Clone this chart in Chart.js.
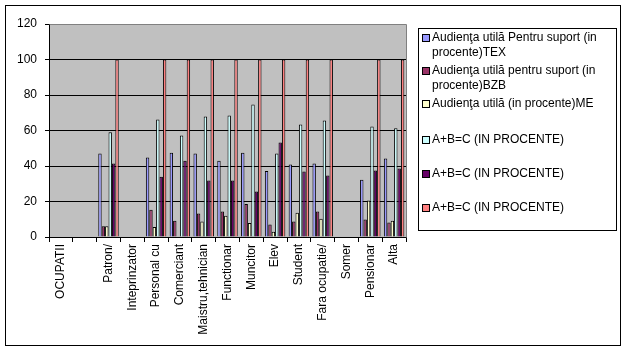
<!DOCTYPE html>
<html>
<head>
<meta charset="utf-8">
<script src="https://cdn.jsdelivr.net/npm/chart.js@4"></script>
<style>
  html, body { margin: 0; padding: 0; background: #fff; }
  #wrap { width: 627px; height: 352px; }
</style>
</head>
<body>
<div id="wrap"><canvas id="occupChart" width="627" height="352"></canvas></div>
<script>
// categories (second one has no label in the original)
const categories = ['OCUPATII', '', 'Patron/', 'Inteprinzator', 'Personal cu', 'Comerciant',
    'Maistru,tehnician', 'Functionar', 'Muncitor', 'Elev', 'Student', 'Fara ocupatie/',
    'Somer', 'Pensionar', 'Alta'];

const seriesNames = [
    'Audienţa utilă Pentru suport (in procente)TEX',
    'Audienţa utilă pentru suport (in procente)BZB',
    'Audienţa utilă (in procente)ME',
    'A+B=C (IN PROCENTE)',
    'A+B=C (IN PROCENTE)',
    'A+B=C (IN PROCENTE)'
];

const tex  = [null, null, 47.0, null, 44.8, 47.4, 47.0, 43.0, 47.4, 37.2, 40.8, 41.4, null, 32.3, 44.2];
const bzb  = [null, null, 6.0,  null, 15.4, 9.2,  13.2, 14.3, 18.6, 7.0,  8.7,  14.3, null, 9.8,  8.1];
const me   = [null, null, 6.0,  null, 5.6,  0,    8.7,  12.0, 7.9,  3.0,  13.7, 10.3, null, 20.5, 9.2];
const sumA = [null, null, 59.0, null, 66.2, 57.2, 67.9, 68.5, 74.7, 47.0, 63.4, 65.6, null, 62.3, 61.3];
const sumB = [null, null, 41.4, null, 33.9, 43.0, 31.8, 31.8, 25.6, 53.2, 36.9, 34.6, null, 37.4, 38.6];
const sumC = [null, null, 100,  null, 100,  100,  100,  100,  100,  100,  100,  100,  null, 100,  100];

const yTicks = [0, 20, 40, 60, 80, 100, 120];

const colors = ['#9999FF', '#993366', '#FFFFCC', '#CCFFFF', '#660066', '#FF8080'];
const allSeries = [tex, bzb, me, sumA, sumB, sumC];

const FONT = 'Arial, "Liberation Sans", sans-serif';

// gray plot background, plot frame, outer border and the legend box
const excelLook = {
    id: 'excelLook',
    beforeDraw(chart) {
        const { ctx, chartArea: a } = chart;
        ctx.save();
        ctx.fillStyle = '#fff';
        ctx.fillRect(0, 0, chart.width, chart.height);
        ctx.fillStyle = '#C0C0C0';
        ctx.fillRect(a.left, a.top, a.right - a.left, a.bottom - a.top);
        ctx.restore();
    },
    afterDraw(chart) {
        const { ctx, chartArea: a } = chart;
        ctx.save();
        ctx.lineWidth = 1;
        ctx.strokeStyle = '#808080';
        ctx.beginPath();
        ctx.moveTo(Math.round(a.left) + 0.5, Math.round(a.top) + 0.5);
        ctx.lineTo(Math.round(a.right) + 0.5, Math.round(a.top) + 0.5);
        ctx.lineTo(Math.round(a.right) + 0.5, Math.round(a.bottom) + 0.5);
        ctx.stroke();

        // outer chart border
        ctx.strokeStyle = '#000';
        ctx.strokeRect(5.5, 5.5, 615, 340);

        // legend
        const lx = 418, ly = 28, lw = 198, lh = 202;
        ctx.strokeRect(lx + 0.5, ly + 0.5, lw, lh);
        ctx.font = '12px ' + FONT;
        ctx.textBaseline = 'middle';
        ctx.fillStyle = '#000';
        const rowY = [38, 71, 104, 140, 174, 208];
        chart.data.datasets.forEach((ds, i) => {
            const y = rowY[i];
            ctx.fillStyle = ds.backgroundColor;
            ctx.fillRect(lx + 4.5, y - 3.5, 7, 7);
            ctx.strokeStyle = '#000';
            ctx.strokeRect(lx + 4.5, y - 3.5, 7, 7);
            ctx.fillStyle = '#000';
            // simple word wrap
            const words = ds.label.split(' ');
            let line = '', lineY = y;
            words.forEach(w => {
                const test = line ? line + ' ' + w : w;
                if (ctx.measureText(test).width > 180 && line) {
                    ctx.fillText(line, lx + 14, lineY);
                    line = w;
                    lineY += 15;
                } else {
                    line = test;
                }
            });
            ctx.fillText(line, lx + 14, lineY);
        });
        ctx.restore();
    }
};

const ctx = document.getElementById('occupChart').getContext('2d');
const occupChart = new Chart(ctx, {
    type: 'bar',
    data: {
        labels: categories,
        datasets: allSeries.map((d, i) => ({
            label: seriesNames[i],
            data: d,
            backgroundColor: colors[i],
            borderColor: '#000',
            borderWidth: 1,
            borderSkipped: 'bottom',
            categoryPercentage: 0.86,
            barPercentage: 1.0
        }))
    },
    options: {
        responsive: false,
        animation: false,
        devicePixelRatio: 1,
        layout: { padding: { top: 24, right: 221, bottom: 0, left: 0 } },
        plugins: {
            legend: { display: false },
            tooltip: { enabled: false }
        },
        scales: {
            x: {
                offset: true,
                grid: {
                    offset: true,
                    drawOnChartArea: false,
                    drawTicks: true,
                    tickLength: 5,
                    color: '#000'
                },
                border: { color: '#000', width: 1 },
                ticks: {
                    autoSkip: false,
                    maxRotation: 90,
                    minRotation: 90,
                    color: '#000',
                    font: { size: 12, family: FONT },
                    padding: 2
                },
                afterFit(scale) { scale.height = 115; }
            },
            y: {
                min: 0,
                max: 120,
                afterBuildTicks(scale) { scale.ticks = yTicks.map(v => ({ value: v })); },
                grid: {
                    color: c => (c.tick && c.tick.value === 120) ? '#808080' : '#000',
                    tickLength: 4,
                    tickColor: '#000'
                },
                border: { color: '#000', width: 1 },
                ticks: {
                    color: '#000',
                    font: { size: 12, family: FONT },
                    padding: 8
                },
                afterFit(scale) { scale.width = 49; }
            }
        }
    },
    plugins: [excelLook]
});
</script>
</body>
</html>
